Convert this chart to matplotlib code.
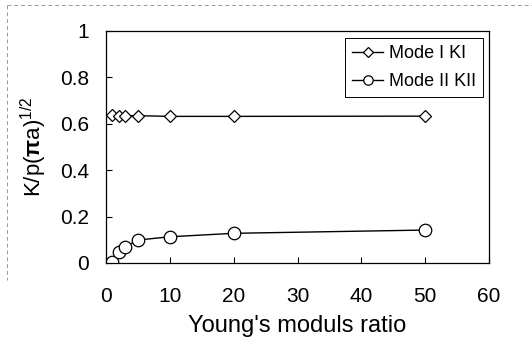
import matplotlib
matplotlib.use('Agg')
import matplotlib.pyplot as plt
from matplotlib.lines import Line2D

plt.rcParams['font.family'] = ['Liberation Sans', 'DejaVu Sans']
plt.rcParams['mathtext.fontset'] = 'custom'
plt.rcParams['mathtext.rm'] = 'Liberation Sans'
plt.rcParams['mathtext.bf'] = 'Liberation Sans:bold'

# modulus ratio and normalised stress intensity factors
ratio = [1, 2, 3, 5, 10, 20, 50]
k1 = [0.636, 0.634, 0.634, 0.635, 0.632, 0.632, 0.633]
k2 = [0.003, 0.049, 0.070, 0.099, 0.113, 0.128, 0.142]

fig = plt.figure(figsize=(5.32, 3.49), dpi=100)
ax = fig.add_axes([106 / 532, 1 - 263 / 349, 383 / 532, 232 / 349])

ax.plot(ratio, k1, '-', color='black', lw=1.0, marker='D', ms=6.5,
        mfc='white', mec='black', mew=0.9, label='Mode I KI')
ax.plot(ratio, k2, '-', color='black', lw=1.0, marker='o', ms=9.0,
        mfc='white', mec='black', mew=0.9, label='Mode II KII')

ax.set_xlim(0, 60)
ax.set_ylim(0, 1)
ax.set_xticks(range(0, 61, 10))
ax.set_yticks([0, 0.2, 0.4, 0.6, 0.8, 1])
ax.set_yticklabels(['0', '0.2', '0.4', '0.6', '0.8', '1'])
ax.tick_params(direction='in', length=4, width=0.8, labelsize=15, pad=12)
ax.tick_params(axis='x', pad=17)
for s in ax.spines.values():
    s.set_linewidth(0.9)

ax.set_xlabel("Young's moduls ratio", fontsize=17, labelpad=7)
ax.set_ylabel(r'K/p($\mathbf{\pi}$a)$^{1/2}$', fontsize=16, labelpad=8)

leg = ax.legend(loc='upper right', bbox_to_anchor=(0.984, 0.97),
                borderaxespad=0, fontsize=13,
                handlelength=1.7, handletextpad=0.3, borderpad=0.4,
                labelspacing=0.6, fancybox=False, framealpha=1,
                edgecolor='black', markerscale=0.75)
leg.get_frame().set_linewidth(0.7)

# faint chart-area border
fig.add_artist(Line2D([7 / 532, 1], [1 - 5 / 349] * 2, color='#999999',
                      lw=0.7, ls=(0, (4, 3))))
fig.add_artist(Line2D([7 / 532] * 2, [1 - 5 / 349, 1 - 280 / 349],
                      color='#999999', lw=0.7, ls=(0, (4, 3))))

fig.savefig('out.png', dpi=100)
